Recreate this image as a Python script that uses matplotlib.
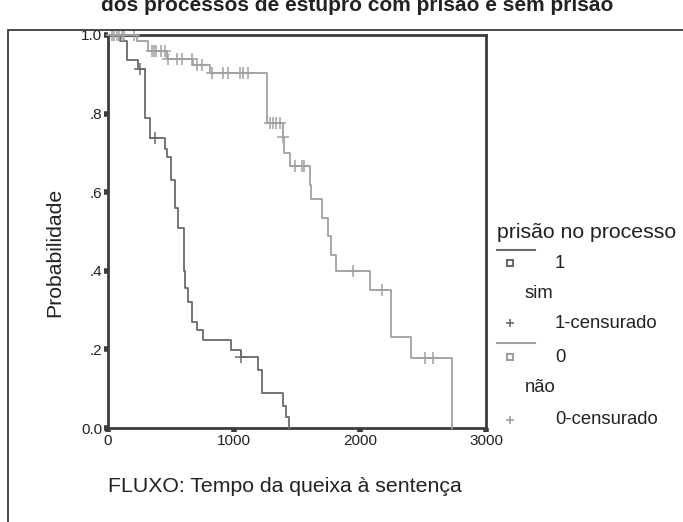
import numpy as np
import matplotlib
matplotlib.use("Agg")
import matplotlib.pyplot as plt
from matplotlib.lines import Line2D
from matplotlib.patches import Rectangle

plt.rcParams['font.family'] = ['Liberation Sans', 'DejaVu Sans']

# --- Data (Kaplan-Meier step curves) ---
# group 1 = "sim" (prisão no processo)
t_sim = [0, 95, 151, 238, 294, 333, 452, 468, 500, 532, 556, 605, 611, 635, 667, 706, 754, 976, 1056, 1190, 1222, 1389, 1413, 1437]
s_sim = [1.0, 0.985, 0.936, 0.913, 0.79, 0.738, 0.71, 0.69, 0.631, 0.56, 0.509, 0.40, 0.356, 0.32, 0.27, 0.25, 0.224, 0.198, 0.18, 0.148, 0.089, 0.056, 0.028, 0.0]
cens_sim = [254, 373, 1056]

# group 0 = "não"
t_nao = [0, 230, 317, 468, 675, 810, 1262, 1389, 1397, 1444, 1603, 1611, 1698, 1746, 1770, 1810, 2079, 2246, 2405, 2730]
s_nao = [1.0, 0.985, 0.96, 0.94, 0.924, 0.903, 0.776, 0.74, 0.70, 0.667, 0.618, 0.583, 0.534, 0.489, 0.44, 0.40, 0.351, 0.232, 0.178, 0.0]
cens_nao = [30, 50, 70, 90, 110, 130, 206, 349, 365, 380, 420, 450, 476, 548, 587, 667, 706, 746,
            825, 913, 952, 1048, 1071, 1111, 1286, 1310, 1333, 1365, 1389, 1484, 1540, 1556, 1944, 2175, 2516, 2579]

x_ticks = [0, 1000, 2000, 3000]
y_ticks = [0.0, 0.2, 0.4, 0.6, 0.8, 1.0]
y_ticklabels = ['0.0', '.2', '.4', '.6', '.8', '1.0']

title = "dos processos de estupro com prisão e sem prisão"
xlabel = "FLUXO: Tempo da queixa à sentença"
ylabel = "Probabilidade"
legend_title = "prisão no processo"

c_sim = '#6a6a6a'
c_nao = '#a0a0a0'
c_axis = '#3c3c3c'


def surv_at(tl, sl, tc):
    tl = np.asarray(tl)
    sl = np.asarray(sl)
    idx = np.searchsorted(tl, np.asarray(tc), side='right') - 1
    return sl[idx]


W, H = 683, 522
fig = plt.figure(figsize=(W / 100, H / 100), dpi=100)
fig.patch.set_facecolor('white')

# outer frame
fig.add_artist(Rectangle((8 / W, -0.05), 1.0, (H - 30) / H + 0.05, transform=fig.transFigure,
                         fill=False, edgecolor=c_axis, lw=1.3))

fig.text(357 / W, (H - 11) / H, title, ha='center', va='baseline', fontsize=15,
         fontweight='bold', color='#222222')

ax = fig.add_axes([108 / W, (H - 428) / H, (486 - 108) / W, (428 - 35) / H])
ax.set_xlim(0, 3000)
ax.set_ylim(0, 1.0)

ax.step(t_sim, s_sim, where='post', color=c_sim, lw=1.3, clip_on=False, zorder=3)
ax.step(t_nao, s_nao, where='post', color=c_nao, lw=1.3, clip_on=False, zorder=3)
ax.plot(cens_sim, surv_at(t_sim, s_sim, cens_sim), linestyle='none', marker='+', ms=8, mew=1.1,
        color=c_sim, clip_on=False, zorder=4)
ax.plot(cens_nao, surv_at(t_nao, s_nao, cens_nao), linestyle='none', marker='+', ms=8, mew=1.1,
        color=c_nao, clip_on=False, zorder=4)

for sp in ax.spines.values():
    sp.set_color(c_axis)
    sp.set_linewidth(2.0)

ax.set_xticks(x_ticks)
ax.set_xticklabels([str(v) for v in x_ticks])
ax.set_yticks(y_ticks)
ax.set_yticklabels(y_ticklabels)
ax.tick_params(axis='both', direction='out', length=3, width=4, color=c_axis,
               labelsize=11, labelcolor='#222222', pad=1)

fig.text(55 / W, (H - 252) / H, ylabel, rotation=90, ha='center', va='center', fontsize=15.3,
         color='#222222')
fig.text(108 / W, (H - 487) / H, xlabel, ha='left', va='center', fontsize=15.3, color='#222222')

# legend (manual)
fig.text(497 / W, (H - 232) / H, legend_title, ha='left', va='center', fontsize=15.3, color='#222222')
items = [
    (250, c_sim, 263, '1', 293, 'sim', 323, '1-censurado'),
    (343, c_nao, 357, '0', 387, 'não', 420, '0-censurado'),
]
for ly, col, sy, lab, ny, name, cy, clab in items:
    fig.add_artist(Line2D([497 / W, 535 / W], [(H - ly) / H] * 2, transform=fig.transFigure,
                          color=col, lw=1.5))
    fig.add_artist(Line2D([510 / W], [(H - sy) / H], transform=fig.transFigure, marker='s',
                          ms=4, mfc='white', mec=col, mew=1.5, linestyle='none'))
    fig.text(555 / W, (H - sy) / H, lab, ha='left', va='center', fontsize=13.3, color='#222222')
    fig.text(525 / W, (H - ny) / H, name, ha='left', va='center', fontsize=13.3, color='#222222')
    fig.add_artist(Line2D([510 / W], [(H - cy) / H], transform=fig.transFigure, marker='+',
                          ms=6, mew=1.2, color=col, linestyle='none'))
    fig.text(555 / W, (H - cy) / H, clab, ha='left', va='center', fontsize=13.3, color='#222222')

fig.savefig('out.png', dpi=100)
